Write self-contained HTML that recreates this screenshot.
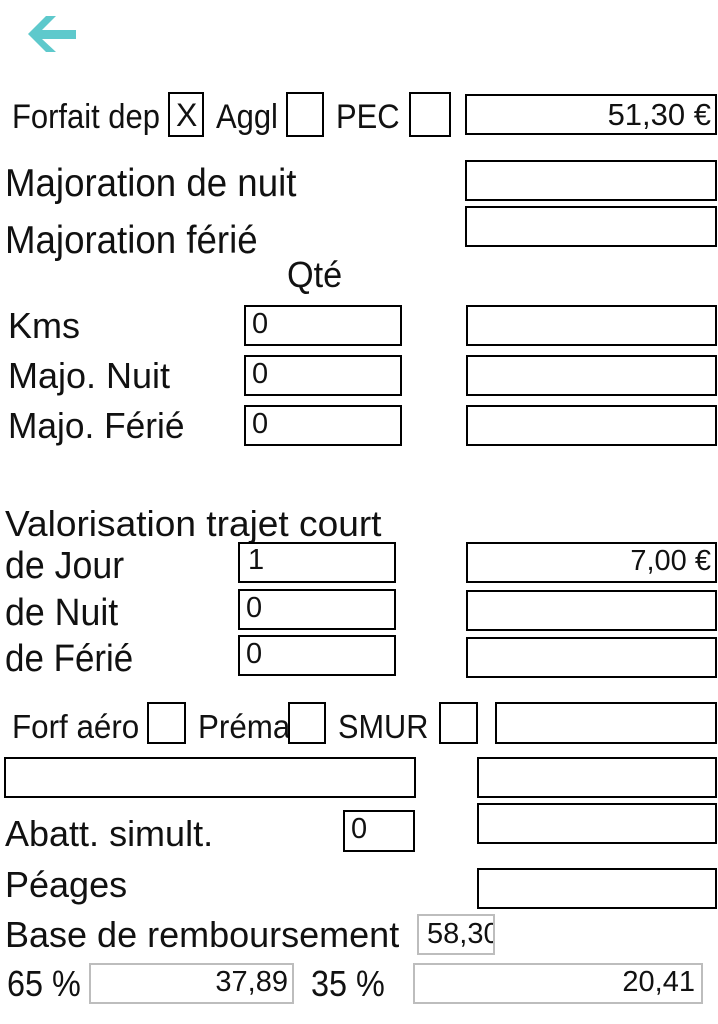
<!DOCTYPE html>
<html><head><meta charset="utf-8">
<style>
html,body{margin:0;padding:0;background:#fff;}
body{width:718px;height:1024px;position:relative;overflow:hidden;font-family:"Liberation Sans",Arial,sans-serif;color:#111;}
.t{position:absolute;white-space:nowrap;line-height:1;transform-origin:0 0;}
.b{position:absolute;box-sizing:border-box;border:2px solid #000;background:#fff;overflow:hidden;}
.g{position:absolute;box-sizing:border-box;border:2px solid #bdbdbd;background:#fff;overflow:hidden;}
.v{position:absolute;white-space:nowrap;line-height:1;font-size:29px;}
</style></head><body>
<svg style="position:absolute;left:26px;top:14px" width="54" height="42" viewBox="0 0 54 42">
<path d="M2 20 L20 2 L30 2 L16 16 L50 16 L50 25 L16 25 L30 38 L20 38 Z" fill="#5ec9cc"/>
</svg>

<div class="t" style="left:12px;top:100px;font-size:34px;transform:scaleX(0.91)">Forfait dep</div>
<div class="b" style="left:168px;top:92px;width:36px;height:45px"><span class="v" style="left:6px;top:5px;font-size:32px">X</span></div>
<div class="t" style="left:216px;top:100px;font-size:34px;transform:scaleX(0.91)">Aggl</div>
<div class="b" style="left:286px;top:92px;width:38px;height:45px"></div>
<div class="t" style="left:336px;top:100px;font-size:34px;transform:scaleX(0.91)">PEC</div>
<div class="b" style="left:409px;top:92px;width:42px;height:45px"></div>
<div class="b" style="left:465px;top:94px;width:252px;height:41px"><span class="v" style="right:4px;top:3px;font-size:31px">51,30 €</span></div>

<div class="t" style="left:5px;top:164px;font-size:39px;transform:scaleX(0.94)">Majoration de nuit</div>
<div class="b" style="left:465px;top:160px;width:252px;height:41px"></div>
<div class="t" style="left:5px;top:221px;font-size:39px;transform:scaleX(0.94)">Majoration férié</div>
<div class="b" style="left:465px;top:206px;width:252px;height:41px"></div>
<div class="t" style="left:287px;top:257px;font-size:36px;transform:scaleX(0.95)">Qté</div>

<div class="t" style="left:8px;top:308px;font-size:36px">Kms</div>
<div class="b" style="left:244px;top:305px;width:158px;height:41px"><span class="v" style="left:6px;top:3px">0</span></div>
<div class="b" style="left:466px;top:305px;width:251px;height:41px"></div>
<div class="t" style="left:8px;top:358px;font-size:36px">Majo. Nuit</div>
<div class="b" style="left:244px;top:355px;width:158px;height:41px"><span class="v" style="left:6px;top:3px">0</span></div>
<div class="b" style="left:466px;top:355px;width:251px;height:41px"></div>
<div class="t" style="left:8px;top:408px;font-size:36px;transform:scaleX(0.98)">Majo. Férié</div>
<div class="b" style="left:244px;top:405px;width:158px;height:41px"><span class="v" style="left:6px;top:3px">0</span></div>
<div class="b" style="left:466px;top:405px;width:251px;height:41px"></div>

<div class="t" style="left:5px;top:506px;font-size:36px;transform:scaleX(1.03)">Valorisation trajet court</div>
<div class="t" style="left:5px;top:547px;font-size:38px;transform:scaleX(0.94)">de Jour</div>
<div class="b" style="left:238px;top:542px;width:158px;height:41px"><span class="v" style="left:8px;top:2px">1</span></div>
<div class="b" style="left:466px;top:542px;width:251px;height:41px"><span class="v" style="right:4px;top:3px">7,00 €</span></div>
<div class="t" style="left:5px;top:594px;font-size:38px;transform:scaleX(0.94)">de Nuit</div>
<div class="b" style="left:238px;top:589px;width:158px;height:41px"><span class="v" style="left:6px;top:3px">0</span></div>
<div class="b" style="left:466px;top:590px;width:251px;height:41px"></div>
<div class="t" style="left:5px;top:640px;font-size:38px;transform:scaleX(0.92)">de Férié</div>
<div class="b" style="left:238px;top:635px;width:158px;height:41px"><span class="v" style="left:6px;top:3px">0</span></div>
<div class="b" style="left:466px;top:637px;width:251px;height:41px"></div>

<div class="t" style="left:12px;top:710px;font-size:33px;transform:scaleX(0.95)">Forf aéro</div>
<div class="b" style="left:147px;top:702px;width:39px;height:42px"></div>
<div class="t" style="left:198px;top:710px;font-size:33px;transform:scaleX(0.95)">Préma</div>
<div class="b" style="left:288px;top:702px;width:38px;height:42px"></div>
<div class="t" style="left:338px;top:710px;font-size:33px;transform:scaleX(0.93)">SMUR</div>
<div class="b" style="left:439px;top:702px;width:39px;height:42px"></div>
<div class="b" style="left:495px;top:702px;width:222px;height:42px"></div>

<div class="b" style="left:4px;top:757px;width:412px;height:41px"></div>
<div class="b" style="left:477px;top:757px;width:240px;height:41px"></div>
<div class="t" style="left:5px;top:816px;font-size:36px;transform:scaleX(1.0)">Abatt. simult.</div>
<div class="b" style="left:343px;top:810px;width:72px;height:42px"><span class="v" style="left:6px;top:3px">0</span></div>
<div class="b" style="left:477px;top:803px;width:240px;height:41px"></div>
<div class="t" style="left:5px;top:867px;font-size:36px">Péages</div>
<div class="b" style="left:477px;top:868px;width:240px;height:41px"></div>

<div class="t" style="left:5px;top:917px;font-size:36px">Base de remboursement</div>
<div class="g" style="left:417px;top:914px;width:78px;height:41px"><span class="v" style="left:8px;top:4px">58,30</span></div>
<div class="t" style="left:7px;top:966px;font-size:36px;transform:scaleX(0.9)">65 %</div>
<div class="g" style="left:89px;top:963px;width:205px;height:41px"><span class="v" style="right:4px;top:3px">37,89</span></div>
<div class="t" style="left:311px;top:966px;font-size:36px;transform:scaleX(0.9)">35 %</div>
<div class="g" style="left:413px;top:963px;width:290px;height:41px"><span class="v" style="right:6px;top:3px">20,41</span></div>
</body></html>
